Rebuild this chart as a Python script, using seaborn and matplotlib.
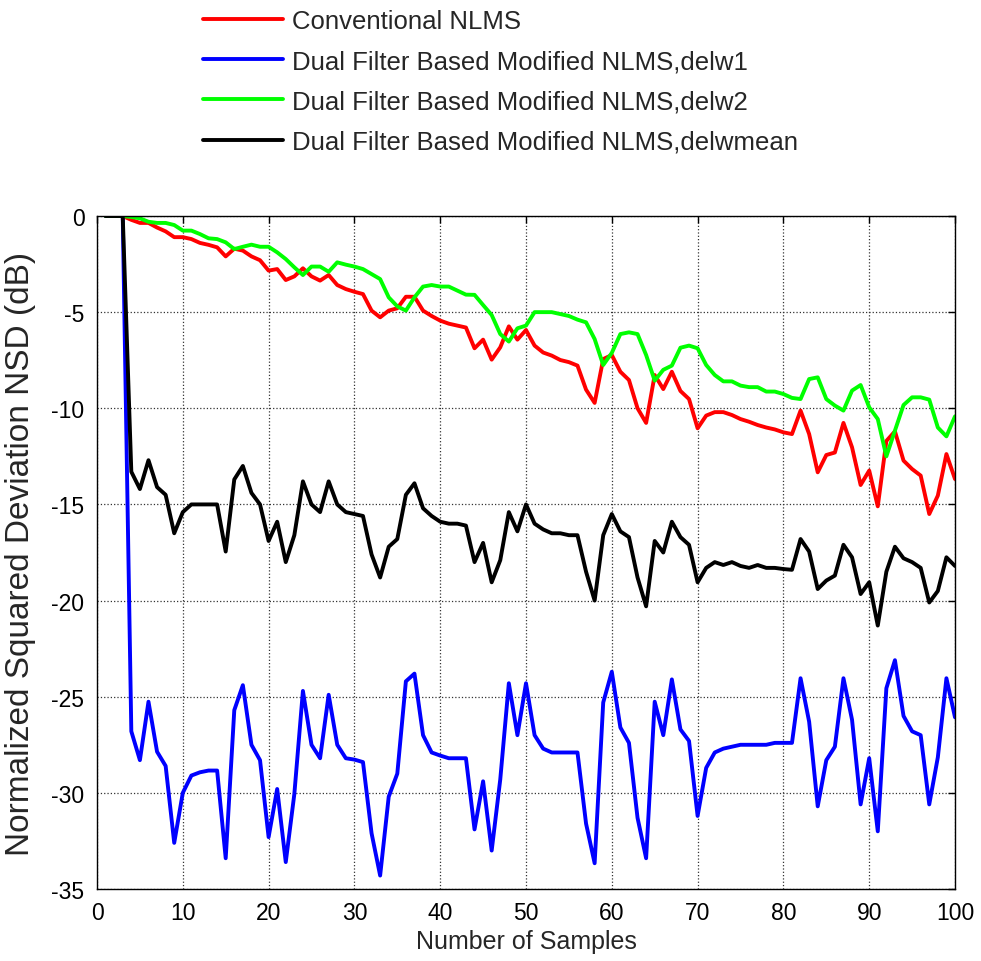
import numpy as np
import pandas as pd
import matplotlib
matplotlib.use("Agg")
import matplotlib.pyplot as plt
import seaborn as sns

samples = list(range(1, 101))

conventional_nlms = [
    0, 0, 0, -0.2, -0.36, -0.36, -0.6, -0.8, -1.1, -1.1,
    -1.2, -1.4, -1.5, -1.63, -2.1, -1.7, -1.8, -2.1, -2.3, -2.84,
    -2.76, -3.33, -3.14, -2.72, -3.14, -3.36, -3.07, -3.59, -3.8, -3.94,
    -4.06, -4.92, -5.27, -4.92, -4.8, -4.2, -4.2, -4.92, -5.2, -5.44,
    -5.6, -5.7, -5.8, -6.88, -6.43, -7.47, -6.83, -5.74, -6.43, -5.93,
    -6.74, -7.1, -7.26, -7.49, -7.6, -7.78, -9.03, -9.72, -7.44, -7.23,
    -8.1, -8.53, -10.0, -10.76, -8.27, -9.0, -8.1, -9.1, -9.52, -11.04,
    -10.38, -10.2, -10.2, -10.35, -10.56, -10.7, -10.87, -11.0, -11.1, -11.25,
    -11.34, -10.12, -11.34, -13.33, -12.43, -12.3, -10.76, -12.03, -13.99, -13.24,
    -15.1, -11.7, -11.2, -12.72, -13.16, -13.5, -15.5, -14.54, -12.38, -13.68,
]

delw1 = [
    0, 0, 0, -26.8, -28.3, -25.26, -27.86, -28.6, -32.6, -30.0,
    -29.1, -28.93, -28.84, -28.84, -33.4, -25.7, -24.4, -27.5, -28.3, -32.3,
    -29.8, -33.6, -30.06, -24.7, -27.5, -28.2, -24.9, -27.5, -28.2, -28.27,
    -28.4, -32.1, -34.3, -30.2, -29.0, -24.2, -23.8, -27.0, -27.9, -28.06,
    -28.2, -28.2, -28.2, -31.9, -29.4, -33.0, -29.3, -24.3, -27.0, -24.3,
    -27.0, -27.7, -27.9, -27.9, -27.9, -27.9, -31.6, -33.66, -25.3, -23.7,
    -26.6, -27.4, -31.3, -33.4, -25.26, -27.0, -24.1, -26.7, -27.3, -31.2,
    -28.7, -27.9, -27.7, -27.6, -27.5, -27.5, -27.5, -27.5, -27.4, -27.4,
    -27.4, -24.04, -26.3, -30.7, -28.3, -27.6, -24.04, -26.2, -30.6, -28.2,
    -32.0, -24.56, -23.1, -26.0, -26.8, -27.0, -30.6, -28.15, -24.04, -26.07,
]

delw2 = [
    0, 0, 0, -0.05, -0.12, -0.3, -0.36, -0.36, -0.47, -0.76,
    -0.76, -0.94, -1.16, -1.2, -1.37, -1.72, -1.6, -1.49, -1.6, -1.6,
    -1.89, -2.24, -2.67, -3.07, -2.63, -2.63, -2.9, -2.41, -2.53, -2.63,
    -2.76, -3.02, -3.28, -4.23, -4.7, -4.92, -4.23, -3.67, -3.59, -3.67,
    -3.67, -3.88, -4.09, -4.1, -4.63, -5.15, -6.14, -6.53, -5.84, -5.7,
    -5.0, -5.0, -5.0, -5.1, -5.2, -5.39, -5.53, -6.4, -7.75, -7.12,
    -6.14, -6.05, -6.14, -7.23, -8.56, -8.0, -7.78, -6.85, -6.74, -6.88,
    -7.75, -8.27, -8.6, -8.6, -8.82, -8.9, -8.9, -9.13, -9.13, -9.26,
    -9.46, -9.52, -8.48, -8.39, -9.52, -9.86, -10.12, -9.08, -8.79, -9.95,
    -10.56, -12.5, -11.16, -9.83, -9.43, -9.43, -9.55, -11.0, -11.46, -10.42,
]

delwmean = [
    0, 0, 0, -13.3, -14.2, -12.7, -14.1, -14.5, -16.5, -15.4,
    -15.0, -15.0, -15.0, -15.0, -17.45, -13.7, -13.0, -14.4, -15.0, -16.9,
    -15.9, -18.0, -16.6, -13.8, -15.0, -15.4, -13.8, -15.0, -15.4, -15.5,
    -15.6, -17.6, -18.8, -17.2, -16.8, -14.5, -13.9, -15.2, -15.6, -15.9,
    -16.0, -16.0, -16.1, -18.0, -17.0, -19.05, -17.9, -15.4, -16.4, -15.0,
    -16.0, -16.3, -16.5, -16.5, -16.6, -16.6, -18.5, -20.0, -16.6, -15.5,
    -16.4, -16.7, -18.8, -20.3, -16.9, -17.5, -15.9, -16.7, -17.1, -19.05,
    -18.3, -18.0, -18.15, -18.0, -18.2, -18.3, -18.15, -18.3, -18.3, -18.36,
    -18.4, -16.8, -17.45, -19.4, -18.96, -18.7, -17.1, -17.75, -19.66, -19.05,
    -21.3, -18.5, -17.2, -17.8, -18.0, -18.3, -20.1, -19.5, -17.75, -18.2,
]

labels = [
    "Conventional NLMS",
    "Dual Filter Based Modified NLMS,delw1",
    "Dual Filter Based Modified NLMS,delw2",
    "Dual Filter Based Modified NLMS,delwmean",
]
colors = ["#ff0000", "#0000ff", "#00ff00", "#000000"]
x_ticks = list(range(0, 101, 10))
y_ticks = list(range(-35, 1, 5))

sns.set_style("white")
plt.rcParams["font.family"] = ["Liberation Sans", "DejaVu Sans"]
plt.rcParams["axes.unicode_minus"] = False

fig = plt.figure(figsize=(9.81, 9.62), dpi=100)
ax = fig.add_axes([97 / 981, 1 - 890 / 962, (955 - 97) / 981, (890 - 217) / 962])

series = [conventional_nlms, delw1, delw2, delwmean]
handles = []
for lab, col, vals in zip(labels, colors, series):
    df = pd.DataFrame({"Samples": samples, "NSD": vals})
    sns.lineplot(data=df, x="Samples", y="NSD", color=col, linewidth=2.8,
                 ax=ax, legend=False)
    handles.append(ax.lines[-1])

ax.set_xlim(0, 100)
ax.set_ylim(-35, 0)
ax.set_xticks(x_ticks)
ax.set_yticks(y_ticks)
ax.grid(True, linestyle=":", color="#333333", linewidth=0.9)
ax.tick_params(direction="in", top=True, right=True, length=5, width=1,
               labelsize=16.5, pad=9, colors="black")
for s in ax.spines.values():
    s.set_visible(True)
    s.set_color("black")
    s.set_linewidth(1.0)

ax.set_xlabel("Number of Samples", fontsize=18)
ax.set_ylabel("Normalized Squared Deviation NSD (dB)", fontsize=24)
ax.xaxis.set_label_coords(0.5, (890 - 930) / 673)
ax.yaxis.set_label_coords((36 - 97) / 858, 0.5)

fig.legend(handles, labels, loc="upper left",
           bbox_to_anchor=(203 / 981, 1 - 10 / 962),
           frameon=False, fontsize=18.5, handlelength=3.1,
           handletextpad=0.35, labelspacing=0.63, borderpad=0,
           borderaxespad=0)

fig.savefig("out.png", dpi=100)
